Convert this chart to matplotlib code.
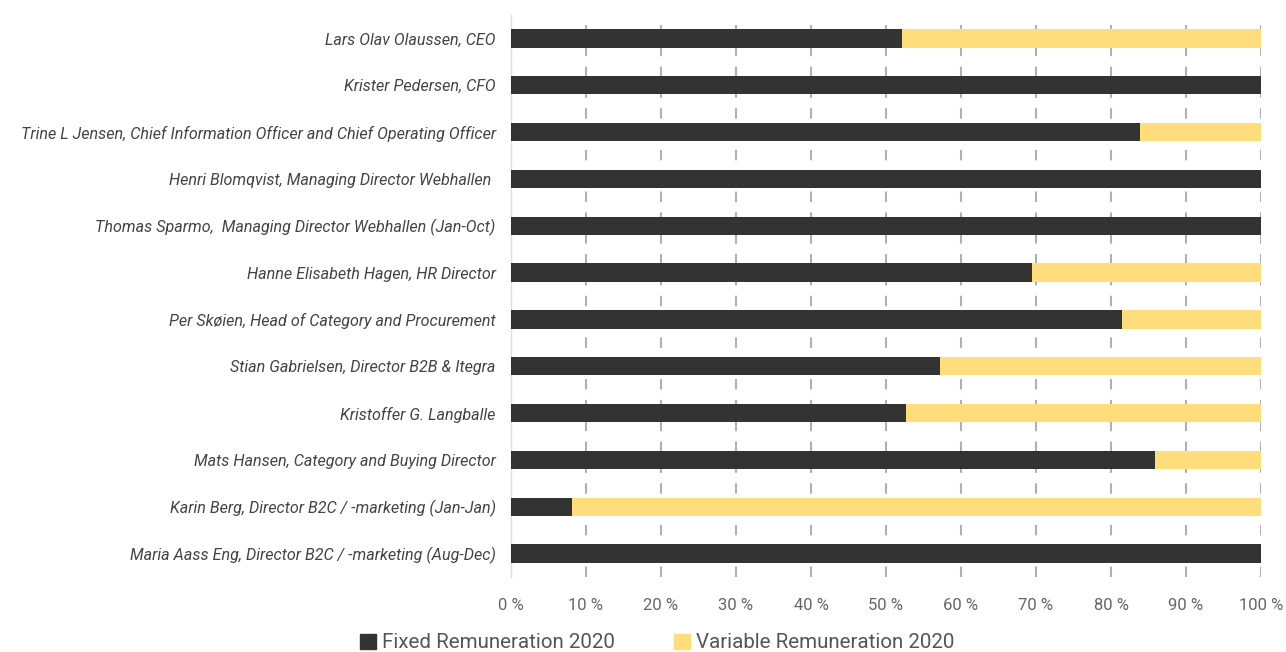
import matplotlib
matplotlib.use("Agg")
import matplotlib.pyplot as plt
from matplotlib.ticker import FuncFormatter, MultipleLocator
from matplotlib.patches import Patch

names = [
    "Lars Olav Olaussen, CEO",
    "Krister Pedersen, CFO",
    "Trine L Jensen, Chief Information Officer and Chief Operating Officer",
    "Henri Blomqvist, Managing Director Webhallen ",
    "Thomas Sparmo,  Managing Director Webhallen (Jan-Oct)",
    "Hanne Elisabeth Hagen, HR Director",
    "Per Skøien, Head of Category and Procurement",
    "Stian Gabrielsen, Director B2B & Itegra",
    "Kristoffer G. Langballe",
    "Mats Hansen, Category and Buying Director",
    "Karin Berg, Director B2C / -marketing (Jan-Jan)",
    "Maria Aass Eng, Director B2C / -marketing (Aug-Dec)",
]
fixed = [52.1, 100, 83.9, 100, 100, 69.4, 81.4, 57.2, 52.6, 85.9, 8.1, 100]
variable = [100 - f for f in fixed]

dark = "#333333"
yellow = "#FFDC7C"

plt.rcParams['font.family'] = ['Roboto', 'DejaVu Sans']

fig = plt.figure(figsize=(12.86, 6.52), dpi=100)
ax = fig.add_axes([511/1286, 1-577/652, 750/1286, 562/652])

y = list(range(len(names)))
ax.barh(y, fixed, height=0.39, color=dark, zorder=3)
ax.barh(y, variable, left=fixed, height=0.39, color=yellow, zorder=3)

ax.set_xlim(0, 100)
ax.set_ylim(len(names) - 0.5, -0.5)
ax.set_yticks(y)
ax.set_yticklabels(names, fontsize=11.6, style='italic', color='#444444')
ax.xaxis.set_major_locator(MultipleLocator(10))
ax.xaxis.set_major_formatter(FuncFormatter(lambda v, p: f"{int(v)} %"))
ax.tick_params(axis='x', labelsize=12, colors='#666666', length=0, pad=15)
ax.tick_params(axis='y', length=0, pad=11)
ax.grid(axis='x', color='#b0b0b0', linestyle=(0, (5, 5)), linewidth=1.5, zorder=0)
for s in ['top', 'right', 'bottom']:
    ax.spines[s].set_visible(False)
ax.spines['left'].set_color('#dddddd')
ax.spines['left'].set_linewidth(1)

handles = [Patch(color=dark, label="Fixed Remuneration 2020"),
           Patch(color=yellow, label="Variable Remuneration 2020")]
leg = fig.legend(handles=handles, loc='center', bbox_to_anchor=(0.511, 0.014), ncol=2,
                 frameon=False, fontsize=14.8, handlelength=0.75, handleheight=0.75,
                 handletextpad=0.3, columnspacing=2.9)
for t in leg.get_texts():
    t.set_color('#555555')

fig.savefig("out.png", dpi=100)
